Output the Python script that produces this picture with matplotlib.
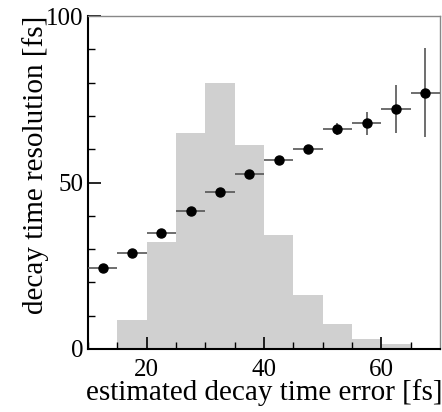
import numpy as np
from matplotlib import pyplot as plt

# histogram of estimated decay time error (bins of 5 fs)
bin_edges = [15, 20, 25, 30, 35, 40, 45, 50, 55, 60, 65]
bin_heights = [8.6, 32.2, 64.8, 79.8, 61.3, 34.1, 16.1, 7.4, 2.9, 1.6]

# resolution vs estimated error
err_x = [12.5, 17.5, 22.5, 27.5, 32.5, 37.5, 42.5, 47.5, 52.5, 57.5, 62.5, 67.5]
resol = [24.2, 28.8, 34.8, 41.5, 47.1, 52.5, 56.7, 60.1, 66.2, 67.8, 72.0, 77.0]
resol_err = [0.8, 0.8, 0.7, 0.7, 0.7, 0.8, 0.9, 1.2, 1.8, 3.5, 7.2, 13.4]
half_bin = 2.5

plt.rcParams['font.family'] = ['Liberation Serif', 'DejaVu Serif']

fig = plt.figure(figsize=(4.42, 4.12), dpi=100)
ax = fig.add_axes([0.199, 0.153, 0.7965, 0.808])

ax.stairs(bin_heights, bin_edges, fill=True, color='#d0d0d0', linewidth=0)
ax.errorbar(err_x, resol, xerr=half_bin, yerr=resol_err, fmt='o', color='black',
            ecolor='#555555', elinewidth=1.2, markersize=6.5, capsize=0, zorder=3)

ax.set_xlim(10, 70)
ax.set_ylim(0, 100)
ax.set_xticks([20, 40, 60])
ax.set_xticks(np.arange(10, 70, 5), minor=True)
ax.set_yticks([0, 50, 100])
ax.set_yticks(np.arange(0, 101, 10), minor=True)
ax.tick_params(which='both', direction='in', top=False, right=False, labelsize=18)
ax.tick_params(which='major', length=9, width=1.2)
ax.tick_params(which='minor', length=5, width=1)
ax.tick_params(axis='x', pad=7)
ax.tick_params(axis='y', pad=3)

for side in ['top', 'right']:
    ax.spines[side].set_color('#888888')
    ax.spines[side].set_linewidth(1)
for side in ['left', 'bottom']:
    ax.spines[side].set_linewidth(1.5)

ax.set_xlabel('estimated decay time error [fs]', fontsize=21, labelpad=-1)
ax.set_ylabel('decay time resolution [fs]', fontsize=21, labelpad=-2)
ax.yaxis.label.set_y(0.553)

fig.savefig('out.png', dpi=100)
